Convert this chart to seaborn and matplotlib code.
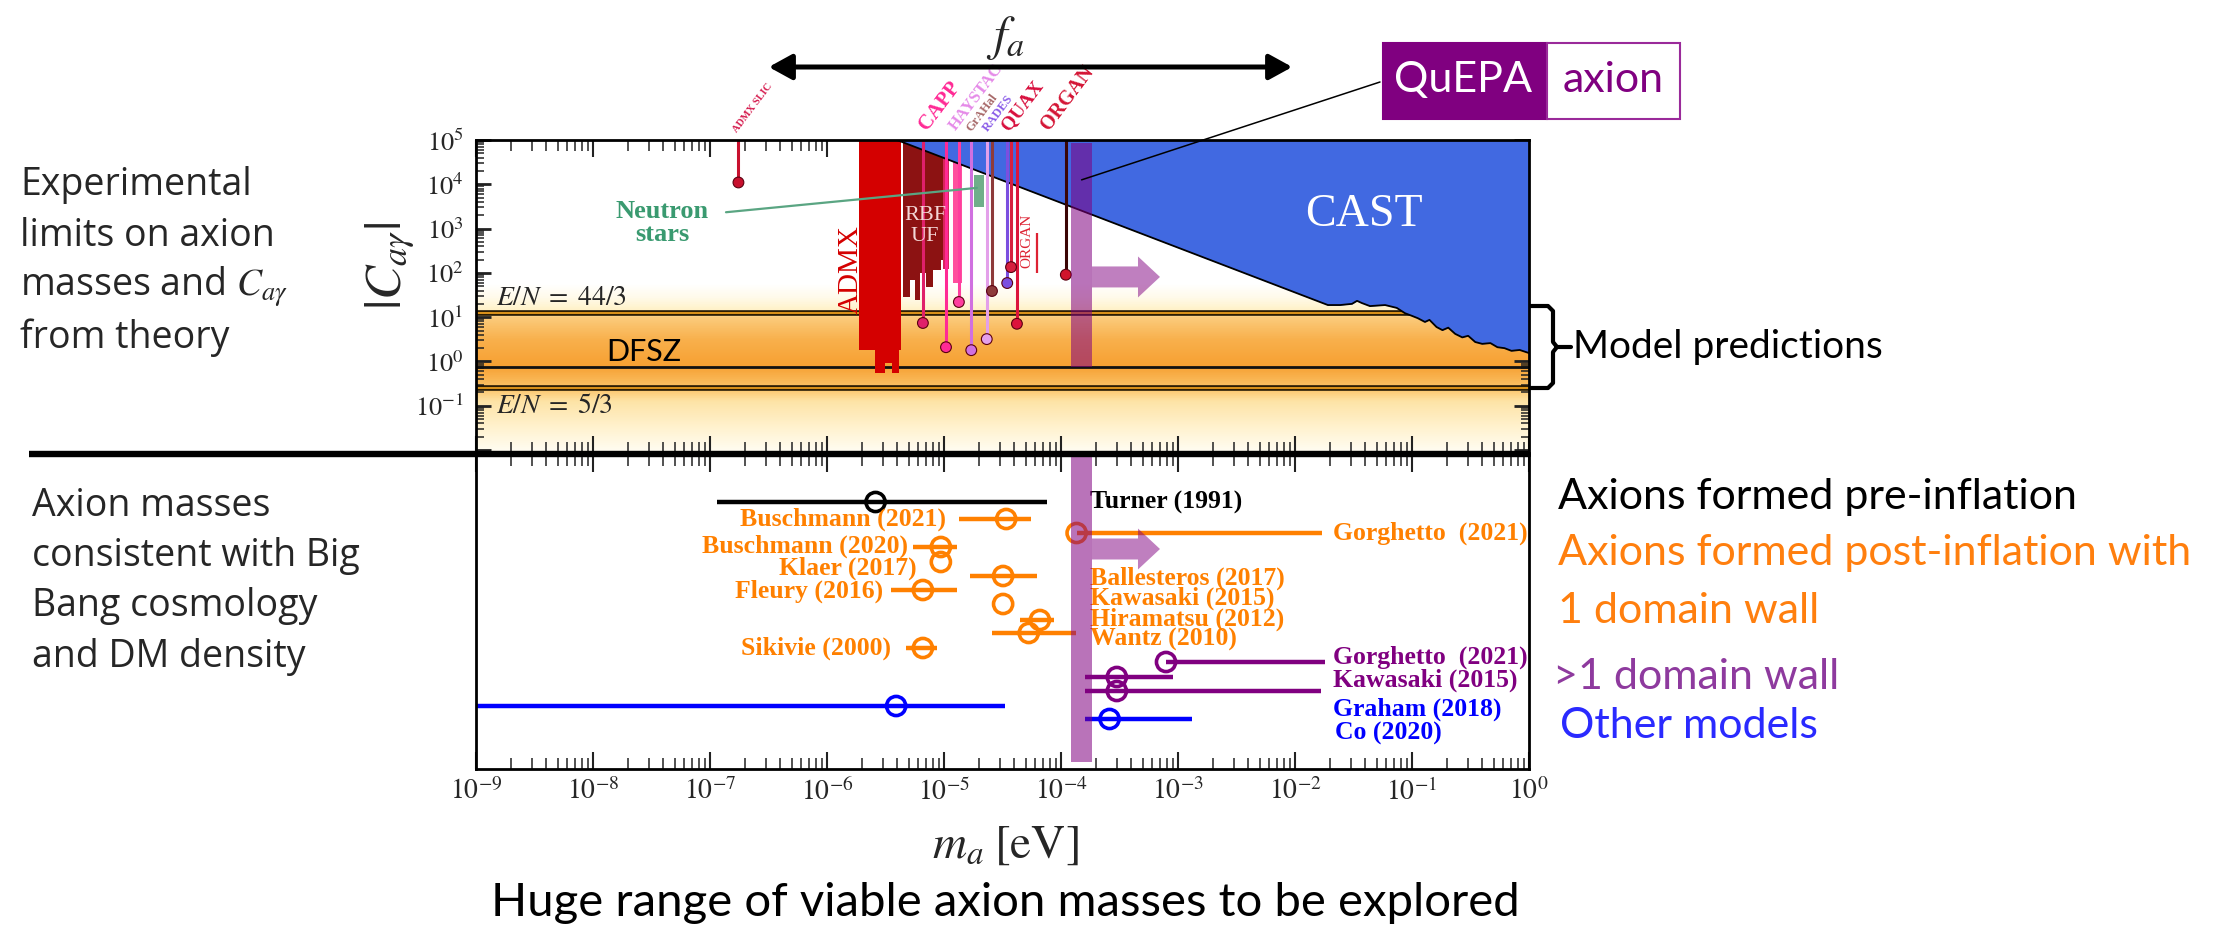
import numpy as np
import pandas as pd
import matplotlib
matplotlib.use("Agg")
import matplotlib.pyplot as plt
import matplotlib.transforms as mtransforms
from matplotlib.colors import to_rgb
from matplotlib.lines import Line2D
from matplotlib.patches import Polygon, Rectangle, FancyArrowPatch
from matplotlib.ticker import LogLocator, NullFormatter, FixedLocator, FuncFormatter
import seaborn as sns

sns.set_theme(style="white")
plt.rcParams["font.family"] = ["Lato", "DejaVu Sans"]
plt.rcParams["mathtext.fontset"] = "stix"
SERIF = ["Liberation Serif", "DejaVu Serif"]
SANS_LEFT = ["Open Sans", "DejaVu Sans"]

# ---------------- upper panel: photon coupling |C_ag| vs axion mass ----------------
# CAST helioscope exclusion boundary (eV, |C_ag|)
cast_mass = [3.96e-6, 1.91e-2, 2.43e-2, 3.07e-2, 3.39e-2, 3.72e-2, 4.37e-2, 5.89e-2,
             7.41e-2, 8.71e-2, 0.100, 0.112, 0.129, 0.141, 0.162, 0.182, 0.204,
             0.234, 0.269, 0.302, 0.347, 0.398, 0.468, 0.537, 0.617, 0.708, 0.832, 1.0]
cast_coupling = [1e5, 18.8, 18.8, 20.0, 23.4, 20.9, 17.8, 18.8,
                 16.2, 12.3, 10.7, 9.5, 7.8, 8.7, 6.0, 5.1, 5.8,
                 4.2, 3.5, 3.8, 2.75, 2.5, 2.6, 2.1, 2.0, 1.74, 1.82, 1.55]

# ADMX exclusion (step edges and lower reach)
admx_edges = [1.88e-6, 2.55e-6, 3.11e-6, 3.61e-6, 4.12e-6, 4.3e-6]
admx_floor = [1.8, 0.55, 0.93, 0.55, 1.8]

# RBF / UF exclusion
rbf_edges = [4.42e-6, 5.14e-6, 5.69e-6, 6.29e-6, 6.95e-6, 8.09e-6, 9.4e-6, 9.89e-6]
rbf_floor = [29, 69, 25, 100, 48, 117, 195]

# narrow haloscope strips next to RBF/UF
strip_lo = [9.9e-6, 1.2e-5]
strip_hi = [1.1e-5, 1.42e-5]
strip_floor = [120, 60]
strip_color = ["#d9245c", "#ff4f9e"]

# single-frequency haloscope limits (drawn as drop lines)
halo_mass = [1.75e-7, 6.6e-6, 1.04e-5, 1.34e-5, 1.71e-5, 2.32e-5, 2.57e-5, 3.47e-5, 3.74e-5, 4.2e-5, 1.1e-4]
halo_floor = [1.1e4, 7.4, 2.1, 22.0, 1.8, 3.2, 39.0, 59.0, 135.0, 7.1, 91.0]
halo_line_color = ["#c8102e", "#e0206a", "#ff2a95", "#ff3d9e", "#d070e0", "#e3a0ea",
                   "#8e3b3b", "#7b4fe0", "#d62040", "#dc143c", "#3a0505"]
halo_dot_color = ["#c8102e", "#e0206a", "#ff2a95", "#ff3d9e", "#d070e0", "#e3a0ea",
                  "#8e3b3b", "#7b4fe0", "#d62040", "#dc143c", "#d0142c"]

exp_names = ["ADMX SLIC", "CAPP", "HAYSTAC", "GrAHal", "RADES", "QUAX", "ORGAN"]
exp_label_mass = [1.74e-7, 7.7e-6, 1.34e-5, 1.8e-5, 2.5e-5, 3.8e-5, 8.5e-5]
exp_label_color = ["#d61e50", "#ff2a95", "#e58ae8", "#a86a6a", "#8a5ce8", "#d8103e", "#d41535"]
exp_label_size = [7.5, 15, 12, 9, 9, 14, 14.5]

# neutron star bound
ns_mass = [1.80e-5, 2.20e-5]
ns_coupling = [3100, 16200]

# model lines
model_names = ["E/N = 44/3", "DFSZ", "E/N = 5/3"]
model_coupling = [12.75, 0.75, 0.25]

# QuEPA reach
quepa_mass = [1.22e-4, 1.84e-4]

# ---------------- lower panel: cosmological mass predictions ----------------
pre_mass = [2.6e-6]
pre_lo = [1.15e-7]
pre_hi = [7.6e-5]
pre_row = [47]

post_mass = [3.4e-5, 1.36e-4, 9.4e-6, 9.4e-6, 3.2e-5, 6.6e-6, 3.2e-5, 6.6e-5, 5.3e-5, 6.6e-6]
post_lo = [1.35e-5, 1.36e-4, 5.4e-6, 9.4e-6, 1.66e-5, 3.5e-6, 3.2e-5, 4.45e-5, 2.58e-5, 4.7e-6]
post_hi = [5.5e-5, 1.7e-2, 1.3e-5, 9.4e-6, 6.2e-5, 1.3e-5, 3.2e-5, 8.7e-5, 1.34e-4, 8.7e-6]
post_row = [64, 78, 92, 107, 121, 135, 149, 165, 178, 193]

dw_mass = [7.9e-4, 3.0e-4, 3.0e-4]
dw_lo = [7.9e-4, 1.6e-4, 1.6e-4]
dw_hi = [1.8e-2, 9.1e-4, 1.66e-2]
dw_row = [207, 222, 236]

other_mass = [3.9e-6, 2.6e-4]
other_lo = [1e-9, 1.6e-4]
other_hi = [3.3e-5, 1.32e-3]
other_row = [251, 264]

label_text = ["Turner (1991)", "Buschmann (2021)", "Gorghetto  (2021)", "Buschmann (2020)",
              "Klaer (2017)", "Fleury (2016)", "Sikivie (2000)", "Ballesteros (2017)",
              "Kawasaki (2015)", "Hiramatsu (2012)", "Wantz (2010)", "Gorghetto  (2021)",
              "Kawasaki (2015)", "Graham (2018)", "Co (2020)"]
label_mass = [1.78e-4, 1.05e-5, 2.1e-2, 4.9e-6, 5.8e-6, 3.0e-6, 3.5e-6, 1.78e-4,
              1.78e-4, 1.78e-4, 1.78e-4, 2.1e-2, 2.1e-2, 2.1e-2, 2.2e-2]
label_row = [47, 64, 78, 91, 113, 136, 193, 123, 143, 164, 184, 202, 225, 254, 278]
label_side = ["left", "right", "left", "right", "right", "right", "right", "left",
              "left", "left", "left", "left", "left", "left", "left"]
label_group = ["pre", "post", "post", "post", "post", "post", "post", "post",
               "post", "post", "post", "dw", "dw", "other", "other"]

group_color = {"pre": "#000000", "post": "#ff8000", "dw": "#800080", "other": "#0000ff"}

# ---------------- figure ----------------
W, H = 2236, 930
fig = plt.figure(figsize=(W / 100, H / 100), dpi=100)
fig.patch.set_facecolor("white")

L, R = 476, 1529
ax_top = fig.add_axes([L / W, 1 - 453 / H, (R - L) / W, (453 - 140) / H])
ax_bot = fig.add_axes([L / W, 1 - 769 / H, (R - L) / W, (769 - 455) / H])

TXT = "#262626"

# ---- upper panel ----
ax = ax_top
ax.set_xscale("log")
ax.set_yscale("log")
ax.set_xlim(1e-9, 1)
ax.set_ylim(10 ** -2.066, 1e5)

# warm background band around the model lines
stops_logc = [-2.07, -1.5, -0.9, -0.62, -0.1, 0.5, 1.0, 1.12, 1.45, 1.75]
stops_col = ["#fffdf4", "#fff2cf", "#fde3a6", "#fbc469", "#f6a032", "#f8b04c",
             "#fbcb7c", "#fff0c2", "#fffaea", "#ffffff"]
rgb = np.array([to_rgb(c) for c in stops_col])
grid = np.linspace(-2.07, 1.75, 260)
for lo, hi in zip(grid[:-1], grid[1:]):
    mid = 0.5 * (lo + hi)
    col = [np.interp(mid, stops_logc, rgb[:, k]) for k in range(3)]
    ax.axhspan(10 ** lo, 10 ** (hi + 0.003), color=col, lw=0, zorder=0, antialiased=False)

for c in (model_coupling[0], model_coupling[2]):
    ax.axhline(c, color="#1a1000", lw=4.0, zorder=1)
    ax.axhline(c, color="#d8901a", lw=1.6, zorder=1)
ax.axhline(model_coupling[1], color="#111111", lw=2.0, zorder=1)

# haloscope regions
ax.fill_between(rbf_edges, rbf_floor + [rbf_floor[-1]], 1e5, step="post",
                color="#8c1212", lw=0, zorder=2)
for lo, hi, fl, col in zip(strip_lo, strip_hi, strip_floor, strip_color):
    ax.fill_between([lo, hi], [fl, fl], 1e5, color=col, lw=0, zorder=2)
ax.fill_between(admx_edges, admx_floor + [admx_floor[-1]], 1e5, step="post",
                color="#d40000", lw=0, zorder=3)

# CAST
ax.fill_between(cast_mass, cast_coupling, 1e5, color="#4169e1", lw=0, zorder=4)
ax.plot(cast_mass, cast_coupling, color="black", lw=1.3, zorder=4)

# neutron stars
ax.fill_between(ns_mass, ns_coupling[0], ns_coupling[1], color="#6fae8a", lw=0, zorder=5)

# drop lines and end points
ax.vlines(halo_mass, halo_floor, 1e5, colors=halo_line_color, lw=2.2, zorder=6)
halo_df = pd.DataFrame({"m": halo_mass, "c": halo_floor, "k": range(len(halo_mass))})
sns.scatterplot(data=halo_df, x="m", y="c", hue="k", palette=halo_dot_color,
                s=60, edgecolor="#5a0010", linewidth=0.8, legend=False, ax=ax, zorder=7)

# ORGAN (2017) narrow limit
ax.vlines([6.2e-5], 100, 800, colors="#dd2233", lw=1.6, zorder=6)

# texts inside
ax.text(1.48e-9, 28, r"$E/N\;=\;44/3$", fontsize=20, color=TXT, va="center", ha="left", zorder=8)
ax.text(1.48e-9, 0.105, r"$E/N\;=\;5/3$", fontsize=20, color=TXT, va="center", ha="left", zorder=8)
ax.text(1.3e-8, 1.62, model_names[1], fontsize=22, color="black", va="center", ha="left", zorder=8)
ax.text(10 ** -1.41, 2050, "CAST", fontsize=33, color="white", family=SERIF,
        ha="center", va="center", zorder=8)
ax.text(1.6e-6, 120, "ADMX", fontsize=21, color="#d40000", family=SERIF,
        rotation=90, ha="center", va="center", zorder=8)
ax.text(6.9e-6, 1150, "RBF\nUF", fontsize=16, color="#f3d6d6", family=SERIF,
        ha="center", va="center", linespacing=1.1, zorder=8)
ax.text(5.1e-5, 525, "ORGAN", fontsize=11, color="#dd2233", family=SERIF,
        rotation=90, ha="center", va="center", zorder=8)
ax.text(3.9e-8, 1350, "Neutron\nstars", fontsize=19, color="#3a9a70", family=SERIF,
        fontweight="bold", ha="center", va="center", linespacing=1.0, zorder=8)
ax.plot([1.37e-7, 1.91e-5], [2340, 8300], color="#5aa582", lw=1.6, zorder=8)

# experiment names above the frame
blend = mtransforms.blended_transform_factory(ax.transData, ax.transAxes)
for name, m, col, fs in zip(exp_names, exp_label_mass, exp_label_color, exp_label_size):
    ax.text(m, 1.02, name, transform=blend, rotation=53, rotation_mode="anchor",
            ha="left", va="bottom", fontsize=fs, color=col, family=SERIF,
            fontweight="bold", clip_on=False)

# QuEPA reach bar
ax.fill_between(quepa_mass, 0.76, 8.5e4, color="#800080", alpha=0.55, lw=0, zorder=9)

# ---- lower panel ----
axb = ax_bot
axb.set_xscale("log")
axb.set_xlim(1e-9, 1)
axb.set_ylim(314, 0)

groups = [("pre", pre_mass, pre_lo, pre_hi, pre_row),
          ("post", post_mass, post_lo, post_hi, post_row),
          ("dw", dw_mass, dw_lo, dw_hi, dw_row),
          ("other", other_mass, other_lo, other_hi, other_row)]
for g, m, lo, hi, row in groups:
    col = group_color[g]
    axb.hlines(row, lo, hi, colors=col, lw=3.2, zorder=3)
    df = pd.DataFrame({"m": m, "row": row})
    sns.scatterplot(data=df, x="m", y="row", ax=axb, s=190, color=col,
                    facecolor="none", edgecolor=col, linewidth=2.6, zorder=4)

for t, m, r, side, g in zip(label_text, label_mass, label_row, label_side, label_group):
    axb.text(m, r, t, ha=side, va="center", fontsize=18.5, color=group_color[g],
             family=SERIF, fontweight="bold", zorder=5)

axb.fill_between(quepa_mass, -5, 307, color="#800080", alpha=0.55, lw=0, zorder=9)
axb.set_xlabel("")
axb.set_ylabel("")
axb.set_yticks([])
ax.set_xlabel("")
ax.set_ylabel("")

# ---- ticks and frames ----
for a in (ax_top, ax_bot):
    a.xaxis.set_major_locator(LogLocator(base=10, numticks=20))
    a.xaxis.set_minor_locator(LogLocator(base=10, subs=np.arange(2, 10), numticks=20))
    a.xaxis.set_minor_formatter(NullFormatter())
    a.tick_params(axis="x", which="both", direction="in", top=True, bottom=True, color="#222222")
    a.tick_params(axis="x", which="major", length=12, width=1.5)
    a.tick_params(axis="x", which="minor", length=8, width=1.1)
    for sp in a.spines.values():
        sp.set_color("black")
        sp.set_linewidth(2.0)
        sp.set_zorder(10)

ax_top.tick_params(axis="x", labelbottom=False)
ax_top.yaxis.set_major_locator(FixedLocator([10.0 ** k for k in range(-2, 6)]))
ax_top.yaxis.set_minor_locator(LogLocator(base=10, subs=np.arange(2, 10), numticks=20))
ax_top.yaxis.set_major_formatter(FuncFormatter(
    lambda v, p: "" if v < 0.05 else r"$10^{%d}$" % int(round(np.log10(v)))))
ax_top.yaxis.set_minor_formatter(NullFormatter())
ax_top.tick_params(axis="y", which="both", direction="in", left=True, right=True, color="#222222")
ax_top.tick_params(axis="y", which="major", length=11, width=2.0, labelsize=19,
                   labelcolor=TXT, pad=9)
ax_top.tick_params(axis="y", which="minor", length=6, width=1.1)

ax_bot.xaxis.set_major_formatter(FuncFormatter(lambda v, p: r"$10^{%d}$" % int(round(np.log10(v)))))
ax_bot.tick_params(axis="x", which="major", labelsize=20, labelcolor=TXT, pad=6)
ax_bot.grid(False)
ax_top.grid(False)

# ---- annotations in figure pixels ----
def fxy(px, py):
    return px / W, 1 - py / H

def right_arrow(a, x, y, length=68, body=21, head=41, head_len=22):
    X, Y = a.transData.transform((x, y))
    pts = [(0, -body / 2), (length - head_len, -body / 2), (length - head_len, -head / 2),
           (length, 0), (length - head_len, head / 2), (length - head_len, body / 2), (0, body / 2)]
    verts = [((X + dx) / W, (Y + dy) / H) for dx, dy in pts]
    fig.add_artist(Polygon(verts, closed=True, transform=fig.transFigure,
                           facecolor="#800080", alpha=0.5, edgecolor="none", zorder=20))

right_arrow(ax_top, quepa_mass[1], 81)
right_arrow(ax_bot, quepa_mass[1], 94)

# separator between the panels
fig.add_artist(Line2D([29 / W, 1530 / W], [1 - 454 / H] * 2, color="black", lw=4.6,
                      transform=fig.transFigure, zorder=30, solid_capstyle="butt"))

# f_a double arrow
fig.add_artist(FancyArrowPatch(fxy(766, 67), fxy(1295, 67), transform=fig.transFigure,
                               arrowstyle="<|-|>,head_length=1.0,head_width=0.55",
                               mutation_scale=14, lw=3.6, color="black", zorder=30))
fig.text(*fxy(1005, 38), r"$f_a$", fontsize=35, ha="center", va="center")

# QuEPA badge
fig.add_artist(Rectangle(fxy(1383, 119), (1547 - 1383) / W, (119 - 43) / H,
                         transform=fig.transFigure, facecolor="#800080",
                         edgecolor="#800080", lw=1.5, zorder=30))
fig.add_artist(Rectangle(fxy(1547, 119), (1680 - 1547) / W, (119 - 43) / H,
                         transform=fig.transFigure, facecolor="white",
                         edgecolor="#9a2a9a", lw=1.5, zorder=30))
fig.text(*fxy(1463, 80), "QuEPA", fontsize=31, color="white", ha="center", va="center", zorder=31)
fig.text(*fxy(1613, 80), "axion", fontsize=31, color="#800080", ha="center", va="center", zorder=31)
ax_top.annotate("", xy=(1.5e-4, 1.26e4), xycoords="data", xytext=fxy(1380, 82),
                textcoords="figure fraction", annotation_clip=False,
                arrowprops=dict(arrowstyle="-", lw=1.1, color="black", shrinkA=0, shrinkB=0),
                zorder=31)

# brace for model predictions
brace = [(1531, 306), (1548, 306), (1553, 311), (1553, 342), (1557, 347),
         (1553, 352), (1553, 383), (1548, 388), (1531, 388)]
fig.add_artist(Line2D([p[0] / W for p in brace], [1 - p[1] / H for p in brace],
                      color="black", lw=3.0, transform=fig.transFigure, zorder=30))
fig.add_artist(Line2D([1556 / W, 1571 / W], [1 - 347 / H] * 2, color="black", lw=3.0,
                      transform=fig.transFigure, zorder=30))
fig.text(*fxy(1573, 347), "Model predictions", fontsize=28, color="black", ha="left", va="center")

# axis titles
fig.text(*fxy(390, 266), r"$|C_{a\gamma}|$", fontsize=37, color=TXT, rotation=90,
         ha="center", va="center")
fig.text(*fxy(1005, 846), r"$m_a\;[\mathrm{eV}]$", fontsize=34, color=TXT, ha="center", va="center")
fig.text(*fxy(1005, 903), "Huge range of viable axion masses to be explored", fontsize=34,
         color="black", ha="center", va="center")

# side descriptions
left1 = ["Experimental", "limits on axion", r"masses and $C_{a\gamma}$", "from theory"]
for t, yy in zip(left1, [185, 236, 287, 338]):
    fig.text(*fxy(20, yy), t, fontsize=27, family=SANS_LEFT, ha="left", va="center")
left2 = ["Axion masses", "consistent with Big", "Bang cosmology", "and DM density"]
for t, yy in zip(left2, [506, 556, 606, 657]):
    fig.text(*fxy(32, yy), t, fontsize=27, family=SANS_LEFT, ha="left", va="center")

right_lines = ["Axions formed pre-inflation", "Axions formed post-inflation with",
               "1 domain wall", ">1 domain wall", "Other models"]
right_colors = ["black", "#ff7f0e", "#ff7f0e", "#8e3a9e", "#2a2aff"]
for t, c, yy, xx in zip(right_lines, right_colors, [497, 553, 611, 677, 726],
                        [1558, 1558, 1558, 1553, 1560]):
    fig.text(*fxy(xx, yy), t, fontsize=31, color=c, ha="left", va="center")

fig.savefig("out.png", dpi=100, facecolor="white")
